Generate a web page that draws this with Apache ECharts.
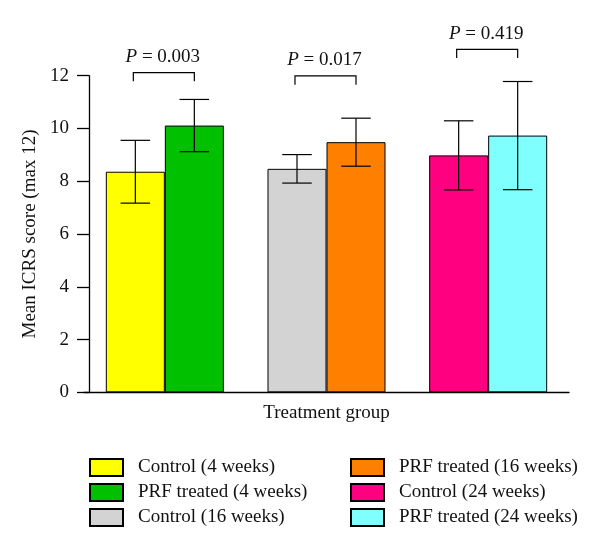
<!DOCTYPE html>
<html>
<head>
<meta charset="utf-8">
<script src="https://cdn.jsdelivr.net/npm/echarts@6/dist/echarts.min.js"></script>
<style>
html,body{margin:0;padding:0;background:#fff;}
#chart{width:600px;height:550px;}
</style>
</head>
<body>
<div id="chart"></div>
<script>
// ---- data ----
var groups = ['4 weeks', '16 weeks', '24 weeks'];
var controlNames = ['Control (4 weeks)', 'Control (16 weeks)', 'Control (24 weeks)'];
var prfNames = ['PRF treated (4 weeks)', 'PRF treated (16 weeks)', 'PRF treated (24 weeks)'];
var controlMean = [8.36, 8.47, 8.98];
var controlSD = [1.19, 0.54, 1.31];
var prfMean = [10.11, 9.48, 9.73];
var prfSD = [0.99, 0.91, 2.05];
var pValues = ['0.003', '0.017', '0.419'];
var bracketLevel = [12.12, 11.99, 13.0];
var yTicks = [0, 2, 4, 6, 8, 10, 12];

// ---- styles ----
var controlColors = ['#FFFF00', '#D3D3D3', '#FF0080'];
var prfColors = ['#00C000', '#FF8000', '#80FFFF'];
var FONT = '"Liberation Serif", "DejaVu Serif", serif';
var BAR_FRAC = 0.365;

var chart = echarts.init(document.getElementById('chart'));

function oneHot(i, v) {
  return groups.map(function (g, j) { return j === i ? v : '-'; });
}

var series = [];
groups.forEach(function (g, i) {
  series.push({
    name: controlNames[i], type: 'bar', stack: 'ctrl', barWidth: (BAR_FRAC * 100) + '%', barGap: '0%',
    data: oneHot(i, controlMean[i]),
    itemStyle: { color: controlColors[i], borderColor: '#000', borderWidth: 1 },
    z: 2
  });
  series.push({
    name: prfNames[i], type: 'bar', stack: 'prf', barWidth: (BAR_FRAC * 100) + '%', barGap: '0%',
    data: oneHot(i, prfMean[i]),
    itemStyle: { color: prfColors[i], borderColor: '#000', borderWidth: 1 },
    z: 2
  });
});

function errorSeries(means, sds, side) {
  return {
    type: 'custom', clip: false, z: 5, silent: true,
    data: means.map(function (m, i) { return [i, m - sds[i], m + sds[i]]; }),
    renderItem: function (params, api) {
      var band = api.size([1, 0])[0];
      var bw = band * BAR_FRAC;
      var c = api.coord([api.value(0), 0]);
      var x = c[0] + side * bw / 2;
      var lo = api.coord([api.value(0), api.value(1)])[1];
      var hi = api.coord([api.value(0), api.value(2)])[1];
      var hw = bw / 4;
      var st = { stroke: '#000', lineWidth: 1.2, fill: null };
      return {
        type: 'group',
        children: [
          { type: 'line', shape: { x1: x, y1: lo, x2: x, y2: hi }, style: st },
          { type: 'line', shape: { x1: x - hw, y1: lo, x2: x + hw, y2: lo }, style: st },
          { type: 'line', shape: { x1: x - hw, y1: hi, x2: x + hw, y2: hi }, style: st }
        ]
      };
    }
  };
}
series.push(errorSeries(controlMean, controlSD, -1));
series.push(errorSeries(prfMean, prfSD, 1));

series.push({
  type: 'custom', clip: false, z: 5, silent: true,
  data: groups.map(function (g, i) { return [i, bracketLevel[i]]; }),
  renderItem: function (params, api) {
    var idx = params.dataIndex;
    var band = api.size([1, 0])[0];
    var bw = band * BAR_FRAC;
    var c = api.coord([api.value(0), api.value(1)]);
    var x1 = c[0] - bw / 2 - 2, x2 = c[0] + bw / 2;
    var yTop = c[1];
    var drop = api.size([0, 0.33])[1];
    return {
      type: 'group',
      children: [
        { type: 'polyline', shape: { points: [[x1, yTop + drop], [x1, yTop], [x2, yTop], [x2, yTop + drop]] },
          style: { stroke: '#000', lineWidth: 1.2, fill: null } },
        { type: 'text', x: c[0] - 2, y: yTop - 6,
          style: {
            text: '{i|P} = ' + pValues[idx],
            rich: { i: { fontStyle: 'italic', fontFamily: FONT, fontSize: 19, fill: '#111' } },
            fontFamily: FONT, fontSize: 19, fill: '#111',
            align: 'center', verticalAlign: 'bottom'
          } }
      ]
    };
  }
});

var legendCommon = {
  orient: 'vertical', icon: 'rect', itemWidth: 33, itemHeight: 17, itemGap: 6,
  top: 458, padding: 0, selectedMode: false,
  textStyle: { fontFamily: FONT, fontSize: 19, color: '#111', lineHeight: 17, padding: [0, 0, 0, 10] }
};

var option = {
  backgroundColor: '#fff',
  animation: false,
  grid: { left: 84, right: 31, top: 75.7, bottom: 157.7 },
  legend: [
    Object.assign({}, legendCommon, { left: 89, data: [controlNames[0], prfNames[0], controlNames[1]] }),
    Object.assign({}, legendCommon, { left: 350, data: [prfNames[1], controlNames[2], prfNames[2]] })
  ],
  xAxis: {
    type: 'category', data: groups,
    axisLine: { lineStyle: { color: '#000', width: 1.3 } },
    axisTick: { show: false }, axisLabel: { show: false },
    name: 'Treatment group', nameLocation: 'middle', nameGap: 11,
    nameTextStyle: { fontFamily: FONT, fontSize: 19, color: '#111', verticalAlign: 'top' }
  },
  yAxis: {
    type: 'value', min: 0, max: 12, interval: 2, offset: -5,
    axisLine: { show: true, lineStyle: { color: '#000', width: 1.3 } },
    axisTick: { show: true, length: 12, lineStyle: { color: '#000', width: 1.3 } },
    splitLine: { show: false },
    axisLabel: { margin: 20, fontFamily: FONT, fontSize: 19, color: '#111',
      formatter: function (v) { return yTicks.indexOf(v) >= 0 ? String(v) : ''; } },
    name: 'Mean ICRS score (max 12)', nameLocation: 'middle', nameGap: 41,
    nameTextStyle: { fontFamily: FONT, fontSize: 19, color: '#111' }
  },
  series: series
};
chart.setOption(option);
</script>
</body>
</html>
